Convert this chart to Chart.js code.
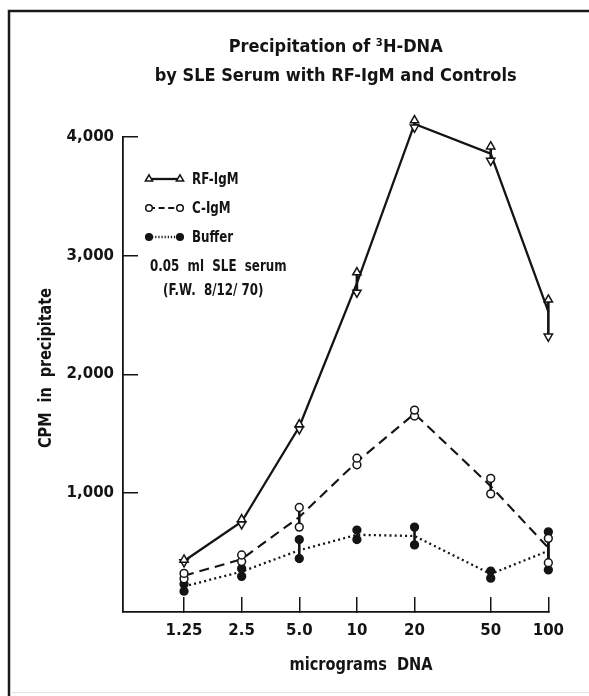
<!DOCTYPE html>
<html><head><meta charset="utf-8">
<script src="https://cdn.jsdelivr.net/npm/chart.js@4.4.1/dist/chart.umd.min.js"></script>
<style>html,body{margin:0;padding:0;background:#fff;} canvas{display:block;}</style>
</head><body>
<canvas id="c" width="589" height="696"></canvas>
<script>
// ---- data ----
const doses = [1.25, 2.5, 5, 10, 20, 50, 100];
const xTickLabels = ['1.25', '2.5', '5.0', '10', '20', '50', '100'];
const yTicks = [1000, 2000, 3000, 4000];
const yTickLabels = ['1,000', '2,000', '3,000', '4,000'];
const seriesNames = ['RF-IgM', 'C-IgM', 'Buffer'];

const rfLine = [430, 760, 1560, 2770, 4110, 3860, 2530];
const rfHigh = [440, 780, 1580, 2860, 4140, 3920, 2630];
const rfLow  = [420, 740, 1540, 2690, 4080, 3800, 2320];

const cLine = [305, 445, 800, 1265, 1670, 1060, 540];
const cHigh = [325, 480, 880, 1295, 1700, 1125, 620];
const cLow  = [280, 425, 715, 1240, 1650, 995, 415];

const bLine = [215, 340, 520, 650, 640, 320, 515];
const bHigh = [235, 365, 610, 690, 715, 345, 675];
const bLow  = [175, 300, 450, 610, 565, 285, 355];

const titleLines = ['Precipitation of \u00B3H-DNA', 'by SLE Serum with RF-IgM and Controls'];
const noteLines = ['0.05  ml  SLE  serum', '(F.W.  8/12/ 70)'];
const xTitle = 'micrograms  DNA';
const yTitle = 'CPM  in  precipitate';

// ---- styling ----
const FONT = "'DejaVu Sans Condensed', 'DejaVu Sans', sans-serif";
const TICKFONT = "'DejaVu Sans', sans-serif";
const INK = '#141414';

function pts(ys) { return doses.map((x, i) => ({ x: x, y: ys[i] })); }
function bars(hi, lo) {
  const out = [];
  doses.forEach((x, i) => { out.push({ x: x, y: hi[i] }, { x: x, y: lo[i] }, { x: x, y: null }); });
  return out;
}

const styles = [
  { dash: [], width: 2.3, point: 'triangle', fill: '#ffffff', radius: 4.8 },
  { dash: [10, 6], width: 2.1, point: 'circle', fill: '#ffffff', radius: 3.9 },
  { dash: [2, 3.2], width: 2.3, point: 'circle', fill: INK, radius: 3.9 }
];
const groups = [[rfLine, rfHigh, rfLow], [cLine, cHigh, cLow], [bLine, bHigh, bLow]];

const datasets = [];
groups.forEach((g, k) => {
  const s = styles[k];
  datasets.push({
    label: seriesNames[k], data: pts(g[0]), borderColor: INK, borderWidth: s.width,
    borderDash: s.dash, pointRadius: 0, tension: 0, clip: false, order: 2, fill: false
  });
  datasets.push({
    label: seriesNames[k] + ' range', data: bars(g[1], g[2]), borderColor: INK, borderWidth: 2.6,
    pointRadius: 0, spanGaps: false, clip: false, order: 3, fill: false
  });
  datasets.push({
    label: seriesNames[k] + ' high', data: pts(g[1]), showLine: false, pointStyle: s.point,
    pointRadius: s.radius, pointBorderWidth: 1.5, pointBorderColor: INK, pointBackgroundColor: s.fill,
    pointRotation: 0, clip: false, order: 1
  });
  datasets.push({
    label: seriesNames[k] + ' low', data: pts(g[2]), showLine: false, pointStyle: s.point,
    pointRadius: s.radius, pointBorderWidth: 1.5, pointBorderColor: INK, pointBackgroundColor: s.fill,
    pointRotation: 180, clip: false, order: 1
  });
});

const framePlugin = {
  id: 'frame',
  beforeDraw(chart) {
    const ctx = chart.ctx;
    ctx.save();
    ctx.fillStyle = '#ffffff';
    ctx.fillRect(0, 0, chart.width, chart.height);
    ctx.strokeStyle = '#1a1a1a';
    ctx.lineWidth = 2.5;
    ctx.beginPath();
    ctx.moveTo(9, 696); ctx.lineTo(9, 11); ctx.lineTo(589, 11);
    ctx.stroke();
    ctx.strokeStyle = '#e2e2e2';
    ctx.lineWidth = 1;
    ctx.beginPath(); ctx.moveTo(10, 692.5); ctx.lineTo(589, 692.5); ctx.stroke();
    ctx.restore();
  }
};

// lets replicate markers above the 4,000 line be drawn (as in the original figure)
const unclipPlugin = {
  id: 'unclip',
  beforeDatasetsDraw(chart) { chart.$savedTop = chart.chartArea.top; chart.chartArea.top -= 40; },
  afterDatasetsDraw(chart) { chart.chartArea.top = chart.$savedTop; }
};

function condensedText(ctx, text, x, y, size, sx, align, rot) {
  ctx.save();
  ctx.translate(x, y);
  if (rot) ctx.rotate(rot);
  ctx.scale(sx, 1);
  ctx.font = 'bold ' + size + 'px ' + FONT;
  ctx.fillStyle = INK;
  ctx.textAlign = align; ctx.textBaseline = 'middle';
  ctx.fillText(text, 0, 0);
  ctx.restore();
}

const labelsPlugin = {
  id: 'customLabels',
  afterDraw(chart) {
    const ctx = chart.ctx;
    ctx.save();
    const rows = [179, 208, 237];
    seriesNames.forEach((name, k) => {
      const s = styles[k];
      const y = rows[k];
      ctx.strokeStyle = INK;
      ctx.lineWidth = s.width;
      ctx.setLineDash(s.dash.length ? s.dash.map(v => v * 0.6) : []);
      ctx.beginPath(); ctx.moveTo(149, y); ctx.lineTo(180, y); ctx.stroke();
      ctx.setLineDash([]);
      [149, 180].forEach(px => {
        ctx.fillStyle = s.fill; ctx.strokeStyle = INK; ctx.lineWidth = 1.5;
        Chart.helpers.drawPoint(ctx, { pointStyle: s.point, radius: s.radius - 0.6, borderWidth: 1.5, rotation: 0 }, px, y);
      });
      condensedText(ctx, name, 192, y + 1, 16.5, 0.8, 'left', 0);
    });
    condensedText(ctx, noteLines[0], 150, 267, 16.5, 0.8, 'left', 0);
    condensedText(ctx, noteLines[1], 163, 291, 16.5, 0.8, 'left', 0);
    // axis titles
    condensedText(ctx, xTitle, 361, 665, 18, 0.9, 'center', 0);
    condensedText(ctx, yTitle, 46, 368, 18, 0.89, 'center', -Math.PI / 2);
    ctx.restore();
  }
};

new Chart(document.getElementById('c'), {
  type: 'line',
  data: { datasets: datasets },
  plugins: [framePlugin, unclipPlugin, labelsPlugin],
  options: {
    responsive: false,
    devicePixelRatio: 1,
    animation: false,
    events: [],
    layout: { padding: { left: 0, right: 27, top: 0, bottom: 0 } },
    plugins: {
      legend: { display: false },
      tooltip: { enabled: false },
      title: {
        display: true, text: titleLines, color: INK, fullSize: false,
        font: { family: FONT, size: 18, weight: 'bold', lineHeight: 1.611 },
        padding: { top: 33, bottom: 46 }
      }
    },
    scales: {
      x: {
        type: 'logarithmic', min: 0.625, max: 100,
        afterBuildTicks: (s) => { s.ticks = doses.map(v => ({ value: v })); },
        afterFit: (s) => { s.height = 84; },
        ticks: {
          color: INK, padding: 25, maxRotation: 0, autoSkip: false,
          font: { family: TICKFONT, size: 15, weight: 'bold' },
          callback: (v) => { const i = doses.indexOf(v); return i >= 0 ? xTickLabels[i] : ''; }
        },
        grid: { drawOnChartArea: false, drawTicks: true, tickLength: -15, color: INK, lineWidth: 1.5 },
        border: { display: true, color: INK, width: 1.8 },
        title: { display: false, text: xTitle }
      },
      y: {
        type: 'linear', min: 0, max: 4000,
        afterBuildTicks: (s) => { s.ticks = yTicks.map(v => ({ value: v })); },
        afterFit: (s) => { s.width = 123; },
        ticks: {
          color: INK, padding: 24,
          font: { family: TICKFONT, size: 15, weight: 'bold' },
          callback: (v) => { const i = yTicks.indexOf(v); return i >= 0 ? yTickLabels[i] : ''; }
        },
        grid: { drawOnChartArea: false, drawTicks: true, tickLength: -15, color: INK, lineWidth: 1.5 },
        border: { display: true, color: INK, width: 1.8 },
        title: { display: false, text: yTitle }
      }
    }
  }
});
</script>
</body></html>
